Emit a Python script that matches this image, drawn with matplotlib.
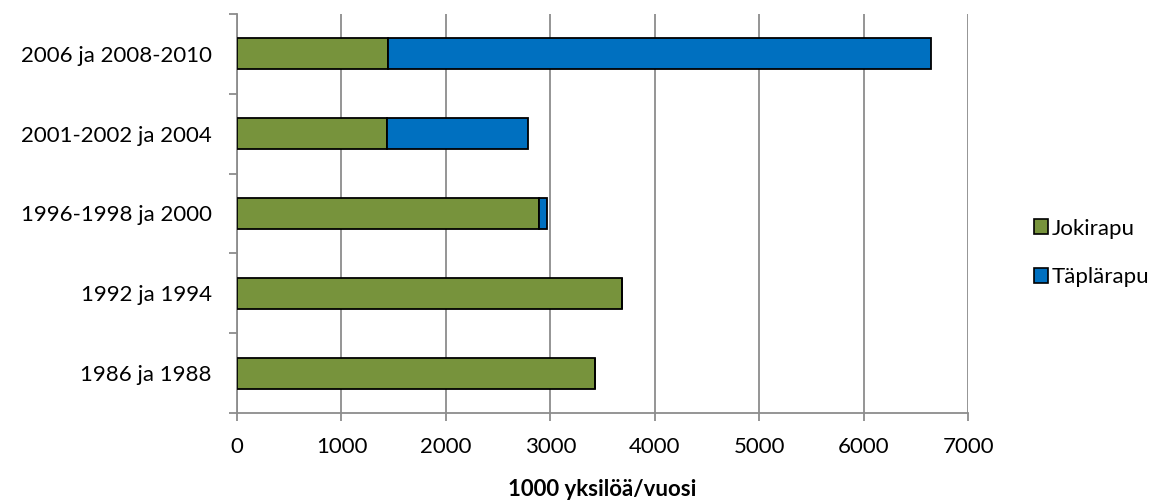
import matplotlib
matplotlib.use("Agg")
import matplotlib.pyplot as plt
from matplotlib.patches import Patch

categories = ["1986 ja 1988", "1992 ja 1994", "1996-1998 ja 2000",
              "2001-2002 ja 2004", "2006 ja 2008-2010"]
jokirapu = [3426, 3690, 2886, 1435, 1445]
taplarapu = [0, 0, 86, 1355, 5195]
series_names = ["Jokirapu", "Täplärapu"]
x_ticks = [0, 1000, 2000, 3000, 4000, 5000, 6000, 7000]

plt.rcParams["font.family"] = ["Lato", "DejaVu Sans"]

green = "#77933C"
blue = "#0070C0"
grid_col = "#8C8C8C"
fs = 16

fig = plt.figure(figsize=(11.71, 5.0), dpi=100)
ax = fig.add_axes([237 / 1171, 1 - 413 / 500, (968.3 - 237) / 1171, (413 - 14) / 500])

y = list(range(len(categories)))
ax.barh(y, jokirapu, height=0.39, color=green, edgecolor="black", linewidth=1.3, zorder=3)
ax.barh(y, taplarapu, left=jokirapu, height=0.39, color=blue, edgecolor="black",
        linewidth=1.3, zorder=3)

ax.set_xlim(0, 7000)
ax.set_ylim(-0.5, len(categories) - 0.5)
ax.set_xticks(x_ticks)
ax.set_xticklabels([str(v) for v in x_ticks], fontsize=fs)
ax.set_yticks(y)
ax.set_yticklabels(categories, fontsize=fs)
ax.set_yticks([i - 0.5 for i in range(len(categories) + 1)], minor=True)
ax.tick_params(axis="y", which="major", length=0, pad=18)
ax.tick_params(axis="y", which="minor", length=6, width=1.3, color=grid_col)
ax.tick_params(axis="x", which="major", length=6, width=1.3, color=grid_col, pad=11)

ax.grid(axis="x", color=grid_col, linewidth=1.3, zorder=0)
for side in ("top", "right"):
    ax.spines[side].set_visible(False)
for side in ("left", "bottom"):
    ax.spines[side].set_color(grid_col)
    ax.spines[side].set_linewidth(1.3)

ax.set_xlabel("1000 yksilöä/vuosi", fontsize=fs, fontweight="bold")
ax.xaxis.set_label_coords(0.5, -(490 - 413) / 399)
ax.xaxis.label.set_va("center")

handles = [Patch(facecolor=green, edgecolor="black", linewidth=1.2),
           Patch(facecolor=blue, edgecolor="black", linewidth=1.2)]
fig.legend(handles, series_names, loc="center left", bbox_to_anchor=(1014 / 1171, 1 - 253 / 500),
           frameon=False, fontsize=fs, handlelength=0.65, handleheight=0.65,
           handletextpad=0.15, labelspacing=1.3)

fig.savefig("out.png", dpi=100)
